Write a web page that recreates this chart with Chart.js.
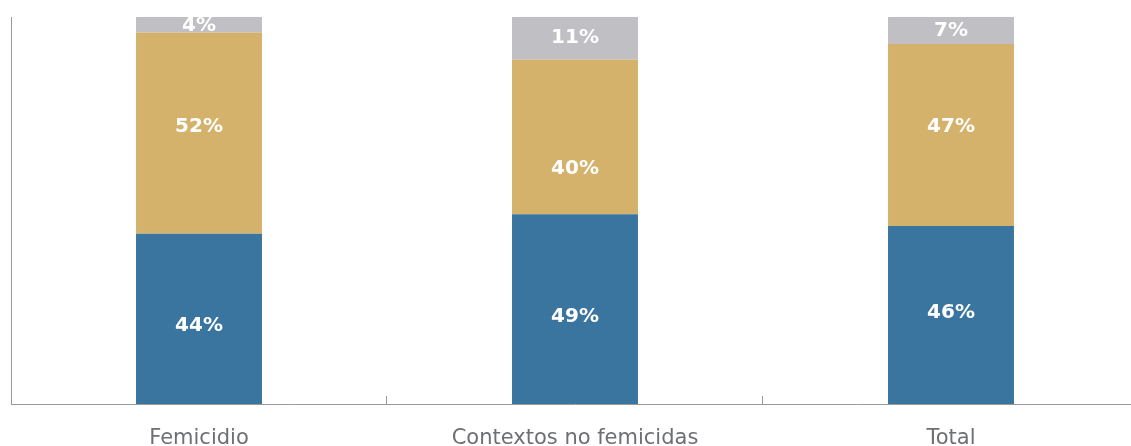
<!DOCTYPE html>
<html>
<head>
<meta charset="utf-8">
<script src="https://cdn.jsdelivr.net/npm/chart.js@4"></script>
<style>
  html, body { margin: 0; padding: 0; background: #fff; overflow: hidden; }
  #wrap { width: 1139px; height: 446px; }
</style>
</head>
<body>
<div id="wrap"><canvas id="chart"></canvas></div>
<script>
// categories and shares (%)
var categories = ["Femicidio", "Contextos no femicidas", "Total"];
var serieA = [44, 49, 46];   // azul
var serieB = [52, 40, 47];   // dorado
var serieC = [4, 11, 7];     // gris

// small per-label nudges (px) so text sits where the original has it
var labelNudge = [[7, 8, -2], [-6, 32, -8], [1, 0, 0]];

var barLabels = {
    id: "barLabels",
    afterDatasetsDraw: function(chart) {
        var ctx = chart.ctx;
        ctx.save();
        ctx.font = "bold 20px 'DejaVu Sans'";
        ctx.fillStyle = "#ffffff";
        ctx.textAlign = "center";
        ctx.textBaseline = "middle";
        chart.data.datasets.forEach(function(ds, di) {
            chart.getDatasetMeta(di).data.forEach(function(bar, i) {
                var y = (bar.y + bar.base) / 2 + labelNudge[di][i];
                ctx.fillText(ds.data[i] + "%", bar.x, y);
            });
        });
        ctx.restore();
    }
};

// short upward ticks between categories on the x axis
var innerTicks = {
    id: "innerTicks",
    afterDraw: function(chart) {
        var x = chart.scales.x, ctx = chart.ctx;
        var bottom = chart.chartArea.bottom;
        ctx.save();
        ctx.strokeStyle = "#9a9a9a";
        ctx.lineWidth = 1;
        for (var i = 1; i < categories.length; i++) {
            var px = Math.round((x.getPixelForValue(i - 1) + x.getPixelForValue(i)) / 2) - 0.5;
            ctx.beginPath();
            ctx.moveTo(px, bottom);
            ctx.lineTo(px, bottom - 8);
            ctx.stroke();
        }
        ctx.restore();
    }
};

new Chart(document.getElementById("chart"), {
    type: "bar",
    data: {
        labels: categories,
        datasets: [
            { label: "A", data: serieA, backgroundColor: "#3a75a0" },
            { label: "B", data: serieB, backgroundColor: "#d4b26b" },
            { label: "C", data: serieC, backgroundColor: "#c0bfc4" }
        ]
    },
    options: {
        responsive: true,
        maintainAspectRatio: false,
        animation: false,
        layout: { padding: { left: 11, top: 17, right: 0, bottom: 0 } },
        plugins: { legend: { display: false }, tooltip: { enabled: false } },
        datasets: { bar: { categoryPercentage: 1, barPercentage: 0.335 } },
        scales: {
            x: {
                stacked: true,
                afterFit: function(s) { s.height = 42; },
                grid: { display: false, drawTicks: false },
                border: { display: true, color: "#9a9a9a", width: 1 },
                ticks: {
                    padding: 22,
                    color: "#6d6f73",
                    font: { family: "'DejaVu Sans'", size: 21, weight: "normal" }
                }
            },
            y: {
                stacked: true,
                min: 0,
                max: 100,
                afterFit: function(s) { s.width = 0; },
                grid: { display: false, drawTicks: false },
                border: { display: true, color: "#9a9a9a", width: 1 },
                ticks: { display: false }
            }
        }
    },
    plugins: [barLabels, innerTicks]
});
</script>
</body>
</html>
